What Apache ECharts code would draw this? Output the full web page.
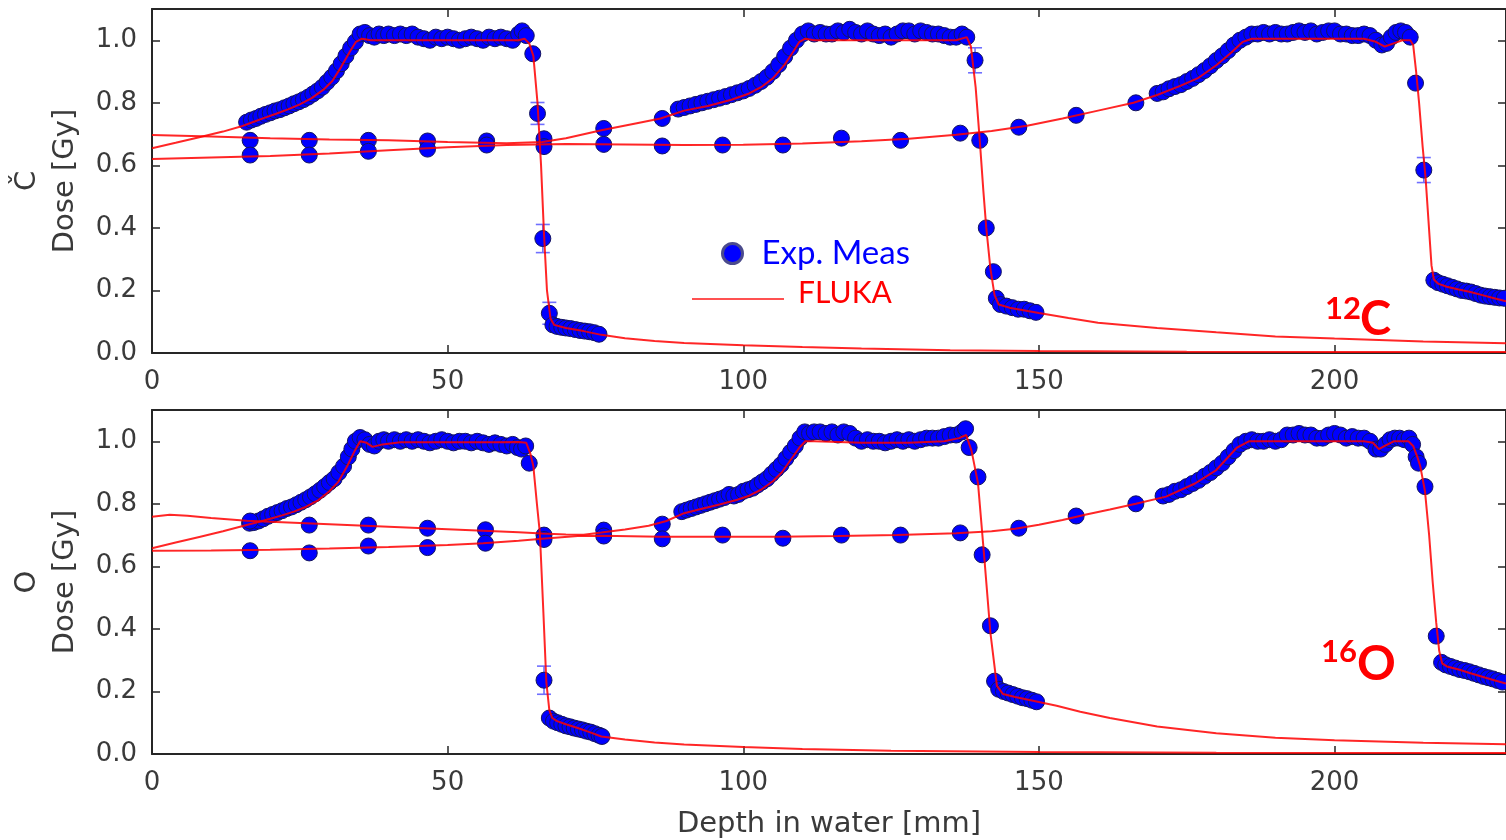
<!DOCTYPE html>
<html>
<head>
<meta charset="utf-8">
<script src="https://cdn.jsdelivr.net/npm/echarts@6/dist/echarts.min.js"></script>
<style>
  html, body { margin: 0; padding: 0; background: #ffffff; }
  #chart { width: 1506px; height: 840px; }
</style>
</head>
<body>
<div id="chart"></div>
<script>
// Depth-dose profiles in water: three beam energies per ion, measurement vs. FLUKA.

const xTicks = [0, 50, 100, 150, 200];
const yTicks = [0, 0.2, 0.4, 0.6, 0.8, 1.0];

// ---------- 12C ----------
const carbonFluka1 = [[0,0.655],[4,0.672],[8,0.69],[12,0.708],[15,0.724],[17,0.738],[19,0.752],[21,0.765],[23,0.779],[25,0.795],[27,0.815],[29,0.842],[30.5,0.87],[32,0.915],[33.5,0.965],[34.5,0.995],[35.5,1.005],[37,1.0],[45,1.0],[55,1.0],[62,1.0],[63,1.005],[63.8,0.99],[64.5,0.95],[65.2,0.8],[65.8,0.6],[66.3,0.38],[66.8,0.2],[67.4,0.11],[68,0.09],[70,0.08],[73,0.07],[76,0.058],[80,0.047],[85,0.038],[90,0.032],[100,0.025],[110,0.019],[120,0.014],[135,0.009],[150,0.006],[175,0.004],[200,0.003],[229,0.003]];
const carbonMeas1 = [[16.0,0.738],[16.8,0.745],[17.6,0.75],[18.4,0.757],[19.2,0.763],[20.0,0.768],[20.8,0.774],[21.6,0.778],[22.4,0.784],[23.2,0.79],[24.0,0.797],[24.8,0.803],[25.6,0.81],[26.4,0.818],[27.2,0.828],[28.0,0.838],[28.8,0.85],[29.6,0.866],[30.4,0.882],[31.2,0.902],[32.0,0.925],[32.8,0.95],[33.6,0.975],[34.4,0.995],[35.2,1.02],[36.0,1.025],[36.8,1.015],[37.6,1.01],[38.4,1.02],[39.2,1.015],[40,1.02],[41,1.015],[42,1.02],[43,1.015],[44,1.02],[45,1.01],[46,1.005],[47,1.0],[48,1.01],[49,1.005],[50,1.01],[51,1.005],[52,1.0],[53,1.005],[54,1.01],[55,1.005],[56,1.0],[57,1.01],[58,1.005],[59,1.01],[60,1.005],[61,1.0],[62,1.02],[62.6,1.03],[63.3,1.015],[64.4,0.957],[65.2,0.766],[66.1,0.366],[67.2,0.127],[67.8,0.09],[68.5,0.085],[69.3,0.082],[70,0.08],[70.8,0.078],[71.6,0.075],[72.4,0.072],[73.2,0.07],[74,0.068],[74.8,0.065],[75.6,0.06]];

const carbonFluka2 = [[0,0.697],[10,0.692],[20,0.687],[30,0.683],[40,0.68],[50,0.675],[60,0.671],[66,0.675],[70,0.687],[76,0.712],[82,0.735],[86,0.75],[90,0.775],[94,0.79],[98,0.81],[101,0.83],[103,0.85],[105,0.878],[107,0.922],[108.5,0.965],[109.5,0.995],[110.5,1.005],[112,1.0],[120,1.0],[130,1.0],[136,1.0],[137.8,1.01],[138.5,0.98],[139.3,0.85],[140,0.68],[140.6,0.52],[141.1,0.4],[141.8,0.27],[142.5,0.185],[143.2,0.155],[145,0.145],[150,0.128],[155,0.112],[160,0.097],[170,0.08],[180,0.066],[190,0.053],[200,0.046],[215,0.037],[229,0.031]];
const carbonMeas2 = [[16.6,0.68],[26.6,0.68],[36.6,0.68],[46.6,0.678],[56.6,0.678],[66.3,0.685],[76.4,0.718],[86.3,0.75],[89,0.78],[90,0.785],[91,0.79],[92,0.795],[93,0.8],[94,0.805],[95,0.81],[96,0.815],[97,0.82],[98,0.826],[99,0.832],[100,0.838],[101,0.846],[102,0.856],[103,0.868],[104,0.882],[105,0.9],[106,0.922],[107,0.948],[108,0.975],[109,1.0],[110,1.02],[111,1.03],[112,1.02],[113,1.025],[114,1.02],[115,1.02],[116,1.03],[117,1.025],[118,1.035],[119,1.025],[120,1.02],[121,1.03],[122,1.02],[123,1.015],[124,1.02],[125,1.01],[126,1.02],[127,1.03],[128,1.03],[129,1.02],[130,1.03],[131,1.025],[132,1.02],[133,1.02],[134,1.015],[135,1.01],[136,1.01],[137,1.02],[137.8,1.01],[139.2,0.936],[140,0.68],[141.1,0.4],[142.3,0.26],[142.8,0.175],[143.5,0.155],[144.5,0.15],[145.5,0.145],[146.5,0.14],[147.5,0.14],[148.5,0.135],[149.5,0.13]];

const carbonFluka3 = [[0,0.62],[10,0.625],[20,0.63],[30,0.638],[40,0.648],[50,0.658],[60,0.665],[70,0.668],[80,0.667],[90,0.665],[100,0.666],[110,0.67],[120,0.677],[128,0.685],[136,0.698],[142,0.71],[148,0.727],[154,0.75],[160,0.775],[166,0.8],[170,0.825],[174,0.855],[177,0.88],[180,0.92],[182.5,0.96],[184.5,0.995],[186,1.005],[195,1.005],[205,1.005],[207,0.995],[208.5,0.98],[210,0.99],[211.5,1.0],[212.8,1.0],[213.3,0.985],[213.8,0.9],[214.3,0.8],[214.9,0.66],[215.4,0.56],[215.9,0.42],[216.4,0.28],[216.8,0.235],[217.5,0.222],[219,0.212],[221,0.203],[223,0.195],[225,0.185],[227,0.175],[229,0.165]];
const carbonMeas3 = [[16.6,0.633],[26.6,0.633],[36.6,0.645],[46.6,0.652],[56.6,0.665],[66.3,0.66],[76.4,0.667],[86.3,0.662],[96.5,0.665],[106.7,0.665],[116.6,0.687],[126.6,0.68],[136.7,0.703],[146.6,0.722],[156.3,0.76],[166.4,0.8],[170,0.83],[171,0.835],[172,0.845],[173,0.852],[174,0.858],[175,0.868],[176,0.878],[177,0.89],[178,0.903],[179,0.918],[180,0.935],[181,0.95],[182,0.967],[183,0.985],[184,1.0],[185,1.01],[186,1.02],[187,1.02],[188,1.025],[189,1.02],[190,1.025],[191,1.02],[192,1.02],[193,1.025],[194,1.03],[195,1.025],[196,1.03],[197,1.02],[198,1.025],[199,1.03],[200,1.03],[201,1.02],[202,1.02],[203,1.015],[204,1.015],[205,1.02],[206,1.015],[207,1.0],[208,0.985],[208.8,0.99],[209.6,1.01],[210.4,1.025],[211.2,1.03],[212,1.025],[212.8,1.01],[213.7,0.863],[215.1,0.585],[216.8,0.233],[217.5,0.225],[218.3,0.22],[219.1,0.215],[219.9,0.21],[220.7,0.205],[221.5,0.2],[222.3,0.198],[223.1,0.195],[223.9,0.19],[224.7,0.185],[225.5,0.182],[226.3,0.18],[227.1,0.178],[227.9,0.176],[228.7,0.175]];

// [depth, dose, uncertainty]
const carbonErr = [[65.2,0.766,0.035],[66.1,0.366,0.045],[67.2,0.127,0.035],[139.2,0.936,0.04],[215.1,0.585,0.04]];

// ---------- 16O ----------
const oxygenFluka1 = [[0,0.658],[4,0.676],[8,0.694],[12,0.712],[16,0.732],[18,0.742],[20,0.752],[22,0.763],[24,0.775],[26,0.79],[28,0.81],[30,0.84],[31.5,0.87],[33,0.92],[34.3,0.97],[35.2,1.0],[36.3,0.995],[37.3,0.982],[39,0.99],[42,0.997],[50,0.997],[58,0.997],[62,0.998],[63.3,0.995],[64,0.96],[64.5,0.92],[65.1,0.8],[65.6,0.706],[66.2,0.45],[66.7,0.228],[67.2,0.14],[67.7,0.115],[68.5,0.105],[70,0.095],[72,0.083],[74,0.07],[76,0.056],[80,0.046],[85,0.037],[90,0.03],[100,0.022],[110,0.016],[125,0.01],[150,0.006],[180,0.004],[229,0.003]];
const oxygenMeas1 = [[16.5,0.738],[17.2,0.74],[18,0.745],[18.8,0.752],[19.6,0.76],[20.4,0.766],[21.2,0.772],[22,0.778],[22.8,0.785],[23.6,0.79],[24.4,0.797],[25.2,0.805],[26,0.813],[26.8,0.822],[27.6,0.832],[28.4,0.843],[29.2,0.855],[30,0.868],[30.8,0.88],[31.6,0.9],[32.4,0.92],[33.2,0.95],[33.8,0.975],[34.4,1.0],[35.2,1.012],[36,1.005],[36.8,0.99],[37.6,0.985],[38.4,1.0],[39.2,1.005],[40,1.0],[41,1.005],[42,1.0],[43,1.005],[44,1.0],[45,1.005],[46,1.0],[47,0.995],[48,1.0],[49,1.005],[50,1.0],[51,0.995],[52,1.0],[53,1.0],[54,0.995],[55,1.0],[56,0.995],[57,0.99],[58,0.995],[59,0.99],[60,0.985],[61,0.99],[61.8,0.98],[62.5,0.975],[63.2,0.985],[63.8,0.93],[66.3,0.236],[67.2,0.115],[67.9,0.105],[68.6,0.1],[69.3,0.095],[70,0.09],[70.7,0.087],[71.4,0.083],[72.1,0.08],[72.8,0.077],[73.5,0.073],[74.2,0.07],[74.9,0.065],[75.6,0.06],[76.1,0.056]];

const oxygenFluka2 = [[0,0.759],[3,0.765],[6,0.762],[10,0.755],[16,0.746],[26,0.738],[36,0.73],[46,0.722],[56,0.714],[62,0.709],[66,0.705],[70,0.702],[73,0.701],[76,0.708],[80,0.718],[84,0.73],[87,0.745],[90,0.77],[93,0.784],[96,0.798],[99,0.813],[101,0.826],[103,0.845],[105,0.872],[106.5,0.9],[108,0.94],[109.5,0.98],[110.5,1.0],[112,1.0],[120,0.995],[128,0.995],[134,1.0],[136.5,1.01],[137.7,1.02],[138.6,0.97],[139.7,0.866],[140.8,0.62],[141.8,0.387],[142.9,0.218],[143.9,0.192],[146,0.182],[150,0.166],[153,0.154],[157,0.135],[162,0.115],[170,0.088],[180,0.066],[190,0.052],[200,0.044],[215,0.036],[229,0.031]];
const oxygenMeas2 = [[16.6,0.745],[26.6,0.732],[36.6,0.732],[46.6,0.722],[56.4,0.717],[66.3,0.70],[76.4,0.716],[86.3,0.735],[89.6,0.775],[90.4,0.78],[91.2,0.785],[92,0.79],[92.8,0.795],[93.6,0.8],[94.4,0.805],[95.2,0.81],[96,0.815],[96.8,0.82],[97.6,0.83],[98.4,0.825],[99.2,0.83],[100,0.84],[100.8,0.845],[101.6,0.85],[102.4,0.86],[103.2,0.87],[104,0.88],[104.8,0.895],[105.6,0.91],[106.4,0.925],[107.2,0.945],[108,0.965],[108.8,0.985],[109.6,1.01],[110.4,1.03],[111.2,1.025],[112,1.03],[113,1.03],[114,1.025],[115,1.03],[116,1.02],[117,1.03],[118,1.025],[119,1.01],[120,1.0],[121,1.005],[122,1.0],[123,1.0],[124,0.995],[125,1.0],[126,1.005],[127,1.0],[128,1.005],[129,1.0],[130,1.005],[131,1.01],[132,1.01],[133,1.01],[134,1.015],[135,1.02],[136,1.02],[137,1.03],[137.6,1.04],[138.2,0.98],[139.7,0.886],[140.4,0.637],[141.8,0.41],[142.5,0.233],[143.2,0.207],[144,0.2],[144.8,0.195],[145.6,0.19],[146.4,0.185],[147.2,0.18],[148,0.177],[148.8,0.172],[149.6,0.167]];

const oxygenFluka3 = [[0,0.65],[10,0.651],[20,0.653],[30,0.657],[40,0.662],[50,0.668],[56,0.674],[62,0.682],[66,0.688],[72,0.697],[76,0.698],[86,0.695],[96,0.695],[106,0.695],[116,0.697],[126,0.7],[136,0.706],[142,0.712],[146,0.72],[150,0.733],[154,0.748],[158,0.766],[162,0.782],[166.4,0.8],[171.5,0.823],[176.4,0.865],[180,0.908],[183.5,0.98],[185.5,1.0],[195,1.0],[205,1.0],[206.5,0.995],[207.5,0.975],[208.5,0.985],[210,1.0],[212.5,1.0],[213.3,0.985],[214,0.95],[214.5,0.92],[215.3,0.84],[216,0.7],[216.6,0.55],[217.2,0.42],[217.7,0.33],[218.2,0.29],[219,0.28],[221,0.27],[223,0.258],[225,0.247],[227,0.236],[229,0.225]];
const oxygenMeas3 = [[16.6,0.65],[26.6,0.643],[36.6,0.665],[46.6,0.66],[56.4,0.674],[66.3,0.686],[76.4,0.697],[86.3,0.688],[96.5,0.70],[106.7,0.69],[116.6,0.70],[126.6,0.70],[136.7,0.707],[146.6,0.722],[156.3,0.761],[166.4,0.80],[171,0.825],[172,0.83],[173,0.84],[174,0.845],[175,0.855],[176,0.865],[177,0.875],[178,0.888],[179,0.9],[180,0.915],[181,0.93],[182,0.95],[183,0.97],[184,0.99],[185,1.0],[186,1.005],[187,1.0],[188,1.0],[189,1.005],[190,1.0],[191,1.005],[192,1.02],[193,1.02],[194,1.025],[195,1.02],[196,1.02],[197,1.01],[198,1.01],[199,1.02],[200,1.025],[201,1.02],[202,1.01],[203,1.015],[204,1.01],[205,1.01],[206,1.0],[207,0.975],[207.8,0.975],[208.6,0.99],[209.4,1.005],[210.2,1.01],[211,1.01],[211.8,1.005],[212.6,1.01],[213.2,0.99],[213.8,0.95],[214.2,0.93],[215.3,0.855],[217.2,0.377],[218.1,0.293],[218.8,0.285],[219.6,0.28],[220.4,0.275],[221.2,0.27],[222,0.267],[222.8,0.263],[223.6,0.258],[224.4,0.253],[225.2,0.248],[226,0.244],[226.8,0.24],[227.6,0.235],[228.4,0.23]];

const oxygenErr = [[66.3,0.236,0.045]];

// ---------- styling ----------
const TICK_FONT = "'DejaVu Sans', sans-serif";
const NOTE_FONT = "Lato, 'Open Sans', sans-serif";
const SPINE = '#262626';
const TEXT = '#3a3a3a';
const X_MAX = 229;
const Y_MAX = 1.1;

const panels = [
  { title: 'Č\nDose [Gy]', meas: [carbonMeas1, carbonMeas2, carbonMeas3], fluka: [carbonFluka1, carbonFluka2, carbonFluka3], err: carbonErr },
  { title: 'O\nDose [Gy]', meas: [oxygenMeas1, oxygenMeas2, oxygenMeas3], fluka: [oxygenFluka1, oxygenFluka2, oxygenFluka3], err: oxygenErr }
];

const grid = [
  { left: 152, right: -2, top: 9, height: 344 },
  { left: 152, right: -2, top: 410, height: 345 }
];

const spineLine = { show: true, onZero: false, lineStyle: { color: SPINE, width: 2 } };
const innerTick = (vals) => ({ show: true, inside: true, length: 8, customValues: vals, lineStyle: { color: SPINE, width: 1.5 } });

const xAxis = [];
const yAxis = [];
panels.forEach((p, gi) => {
  xAxis.push({
    gridIndex: gi, type: 'value', min: 0, max: X_MAX, position: 'bottom',
    axisLine: spineLine, axisTick: innerTick(xTicks), splitLine: { show: false },
    axisLabel: { customValues: xTicks, margin: 16, fontSize: 26, color: TEXT, fontFamily: TICK_FONT },
    name: gi === 1 ? 'Depth in water [mm]' : '', nameLocation: 'middle', nameGap: 56,
    nameTextStyle: { fontSize: 29, color: TEXT, fontFamily: TICK_FONT }
  });
  xAxis.push({
    gridIndex: gi, type: 'value', min: 0, max: X_MAX, position: 'top',
    axisLine: spineLine, axisTick: innerTick(xTicks), splitLine: { show: false },
    axisLabel: { show: false }
  });
  yAxis.push({
    gridIndex: gi, type: 'value', min: 0, max: Y_MAX, position: 'left',
    axisLine: spineLine, axisTick: innerTick(yTicks), splitLine: { show: false },
    axisLabel: { customValues: yTicks, margin: 15, fontSize: 26, color: TEXT, fontFamily: TICK_FONT,
                 formatter: (v) => v.toFixed(1) },
    name: p.title, nameLocation: 'middle', nameRotate: 90, nameGap: 66,
    nameTextStyle: { fontSize: 29, lineHeight: 38, color: TEXT, fontFamily: TICK_FONT, align: 'center' }
  });
  yAxis.push({
    gridIndex: gi, type: 'value', min: 0, max: Y_MAX, position: 'right',
    axisLine: spineLine, axisTick: innerTick(yTicks), splitLine: { show: false },
    axisLabel: { show: false }
  });
});

function errorBar(params, api) {
  const x = api.value(0), y = api.value(1), e = api.value(2);
  const top = api.coord([x, y + e]);
  const bot = api.coord([x, y - e]);
  const half = 7;
  const style = { stroke: '#6f6fff', lineWidth: 1.6 };
  return {
    type: 'group',
    children: [
      { type: 'line', shape: { x1: top[0], y1: top[1], x2: bot[0], y2: bot[1] }, style },
      { type: 'line', shape: { x1: top[0] - half, y1: top[1], x2: top[0] + half, y2: top[1] }, style },
      { type: 'line', shape: { x1: bot[0] - half, y1: bot[1], x2: bot[0] + half, y2: bot[1] }, style }
    ]
  };
}

const series = [];
panels.forEach((p, gi) => {
  const xi = gi * 2, yi = gi * 2;
  series.push({
    type: 'custom', name: 'error', xAxisIndex: xi, yAxisIndex: yi, z: 1,
    renderItem: errorBar, data: p.err, silent: true
  });
  p.meas.forEach((d) => series.push({
    type: 'scatter', name: 'Exp. Meas', xAxisIndex: xi, yAxisIndex: yi, z: 2,
    symbol: 'circle', symbolSize: 16, data: d,
    itemStyle: { color: '#0000ff', borderColor: '#14145e', borderWidth: 1, opacity: 1 }
  }));
  p.fluka.forEach((d) => series.push({
    type: 'line', name: 'FLUKA', xAxisIndex: xi, yAxisIndex: yi, z: 3,
    symbol: 'none', data: d,
    itemStyle: { color: '#ff0000' },
    lineStyle: { color: 'rgba(255,0,0,0.85)', width: 2 }
  }));
});

// legend line icon: a thin bar resting at the bottom of the icon box
const flukaIcon = 'path://M0,0L0.01,0L0,0.01Z M0,12L92,12L92,14L0,14Z';

const chart = echarts.init(document.getElementById('chart'), null, { renderer: 'canvas' });
chart.setOption({
  backgroundColor: '#ffffff',
  animation: false,
  grid, xAxis, yAxis, series,
  legend: [
    {
      data: ['Exp. Meas'], left: 721, top: 237, padding: 0, selectedMode: false,
      itemWidth: 20, itemHeight: 20, icon: 'circle',
      itemStyle: { color: '#0000ff', borderColor: '#4b4b8c', borderWidth: 3 },
      textStyle: { fontFamily: NOTE_FONT, fontSize: 33, color: '#0000ff', padding: [0, 0, 0, 14] }
    },
    {
      data: [{ name: 'FLUKA', icon: flukaIcon }], left: 692, top: 278, padding: 0, selectedMode: false,
      itemWidth: 92, itemHeight: 14,
      itemStyle: { color: 'rgba(255,50,50,0.85)', borderWidth: 0 },
      lineStyle: { color: 'rgba(255,50,50,0.85)', width: 0 },
      textStyle: { fontFamily: NOTE_FONT, fontSize: 30, color: '#ff0000', padding: [0, 0, 0, 9] }
    }
  ],
  graphic: [
    { type: 'text', left: 1325, top: 293, style: { text: '12', fontFamily: NOTE_FONT, fontWeight: 'bold', fontSize: 31, fill: '#ff0000' } },
    { type: 'text', left: 1360, top: 296, style: { text: 'C', fontFamily: NOTE_FONT, fontWeight: 'bold', fontSize: 47, fill: '#ff0000' } },
    { type: 'text', left: 1321, top: 636, style: { text: '16', fontFamily: NOTE_FONT, fontWeight: 'bold', fontSize: 31, fill: '#ff0000' } },
    { type: 'text', left: 1357, top: 641, style: { text: 'O', fontFamily: NOTE_FONT, fontWeight: 'bold', fontSize: 48, fill: '#ff0000' } }
  ]
});
</script>
</body>
</html>
